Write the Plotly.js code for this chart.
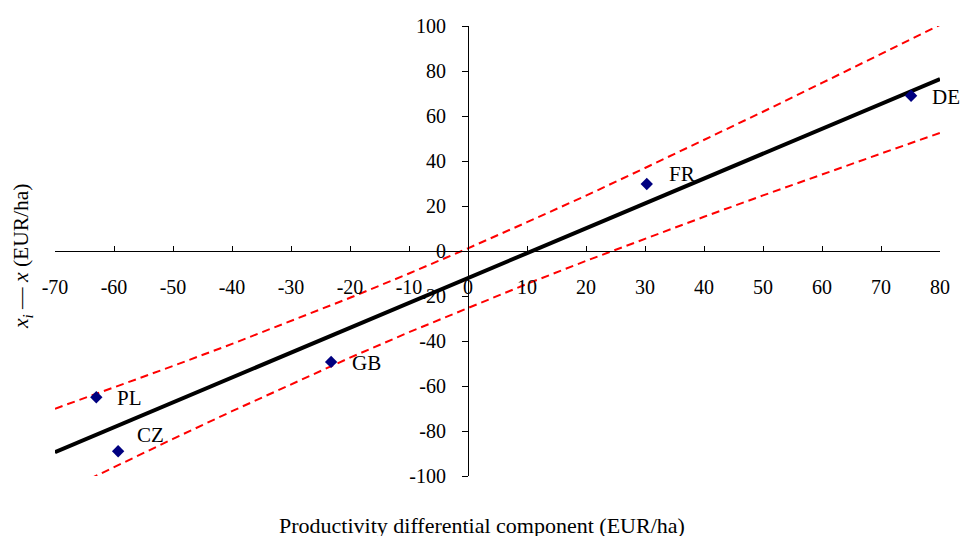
<!DOCTYPE html>
<html>
<head>
<meta charset="utf-8">
<script src="https://cdn.plot.ly/plotly-3.0.1.min.js"></script>
<style>
  html, body { margin: 0; padding: 0; background: #fff; }
  #chart { width: 961px; height: 536px; }
</style>
</head>
<body>
<div id="chart"></div>
<script>
// Countries (data points)
const countries = ["PL", "CZ", "GB", "FR", "DE"];
const prodDiff = [-63, -59.3, -23.2, 30.3, 75.1];
const deviation = [-65, -89, -49.3, 29.8, 69];

// Fitted regression line (endpoints)
const fitX = [-70, 80];
const fitY = [-89.4, 76.4];

// Confidence band
const bandX = [-70, -60, -50, -40, -30, -20, -10, 0, 10, 20, 30, 40, 50, 60, 70, 80];
const bandUpper = [-70.1, -60.7, -51.1, -41.3, -31.2, -20.8, -10.0, 1.2, 12.8, 24.6, 36.9, 49.3, 61.9, 74.7, 87.5, 100.5];
const bandLower = [-108.7, -96.0, -83.5, -71.2, -59.2, -47.4, -36.1, -25.2, -14.6, -4.4, 5.5, 15.2, 24.7, 34.1, 43.3, 52.5];

// Tick labels
const xTickVals = [-70, -60, -50, -40, -30, -20, -10, 0, 10, 20, 30, 40, 50, 60, 70, 80];
const xTickText = ["-70", "-60", "-50", "-40", "-30", "-20", "-10", "0", "10", "20", "30", "40", "50", "60", "70", "80"];
const yTickVals = [-100, -80, -60, -40, -20, 0, 20, 40, 60, 80, 100];
const yTickText = ["-100", "-80", "-60", "-40", "-20", "0", "20", "40", "60", "80", "100"];

// Label pixel offsets relative to each point
const labelDx = [21, 19, 21, 22, 21];
const labelDy = [-1, 16, -1, 10, -1];

const FONT = "Liberation Serif";

const traces = [
  {
    x: bandX, y: bandUpper, type: "scatter", mode: "lines",
    line: { color: "#FF0000", width: 2, dash: "8px,5px" }, hoverinfo: "skip"
  },
  {
    x: bandX, y: bandLower, type: "scatter", mode: "lines",
    line: { color: "#FF0000", width: 2, dash: "8px,5px" }, hoverinfo: "skip"
  },
  {
    x: fitX, y: fitY, type: "scatter", mode: "lines",
    line: { color: "#000000", width: 4 }, hoverinfo: "skip"
  },
  {
    x: prodDiff, y: deviation, type: "scatter", mode: "markers",
    marker: { symbol: "diamond", size: 9.5, color: "#000080" },
    text: countries
  }
];

const annotations = countries.map((c, i) => ({
  x: prodDiff[i], y: deviation[i], xref: "x", yref: "y",
  text: c, showarrow: false, xanchor: "left", yanchor: "middle",
  xshift: labelDx[i] - 2, yshift: labelDy[i],
  font: { family: FONT, size: 21, color: "#000" }
}));

annotations.push({
  xref: "paper", yref: "paper", x: (482 - 55) / 885, y: 0,
  yshift: -49, text: "Productivity differential component (EUR/ha)",
  showarrow: false, xanchor: "center", yanchor: "middle",
  font: { family: FONT, size: 22, color: "#000" }
});
annotations.push({
  xref: "paper", yref: "paper", x: 0, y: (476 - 256) / 450,
  xshift: -32, text: "<i>x<sub>i</sub></i> — <i>x</i> (EUR/ha)",
  textangle: -90, showarrow: false, xanchor: "center", yanchor: "middle",
  font: { family: FONT, size: 21.5, color: "#000" }
});

const layout = {
  width: 961, height: 536,
  margin: { l: 55, r: 21, t: 26, b: 60, pad: 0 },
  paper_bgcolor: "#fff", plot_bgcolor: "#fff",
  showlegend: false,
  font: { family: FONT, size: 20, color: "#000" },
  xaxis: {
    range: [-70, 80], anchor: "free", position: 0.5,
    tickmode: "array", tickvals: xTickVals, ticktext: xTickText,
    showline: true, linecolor: "#000", linewidth: 1,
    ticks: "inside", ticklen: 5, tickcolor: "#000", tickwidth: 1,
    ticklabelstandoff: 18,
    showgrid: false, zeroline: false,
    tickfont: { family: FONT, size: 20, color: "#000" }
  },
  yaxis: {
    range: [-100, 100], anchor: "free", position: 70 / 150,
    tickmode: "array", tickvals: yTickVals, ticktext: yTickText,
    showline: true, linecolor: "#000", linewidth: 1,
    ticks: "outside", ticklen: 6, tickcolor: "#000", tickwidth: 1,
    ticklabelstandoff: 12,
    showgrid: false, zeroline: false,
    tickfont: { family: FONT, size: 20, color: "#000" }
  },
  annotations: annotations
};

Plotly.newPlot("chart", traces, layout, { displayModeBar: false, staticPlot: true });
</script>
</body>
</html>
